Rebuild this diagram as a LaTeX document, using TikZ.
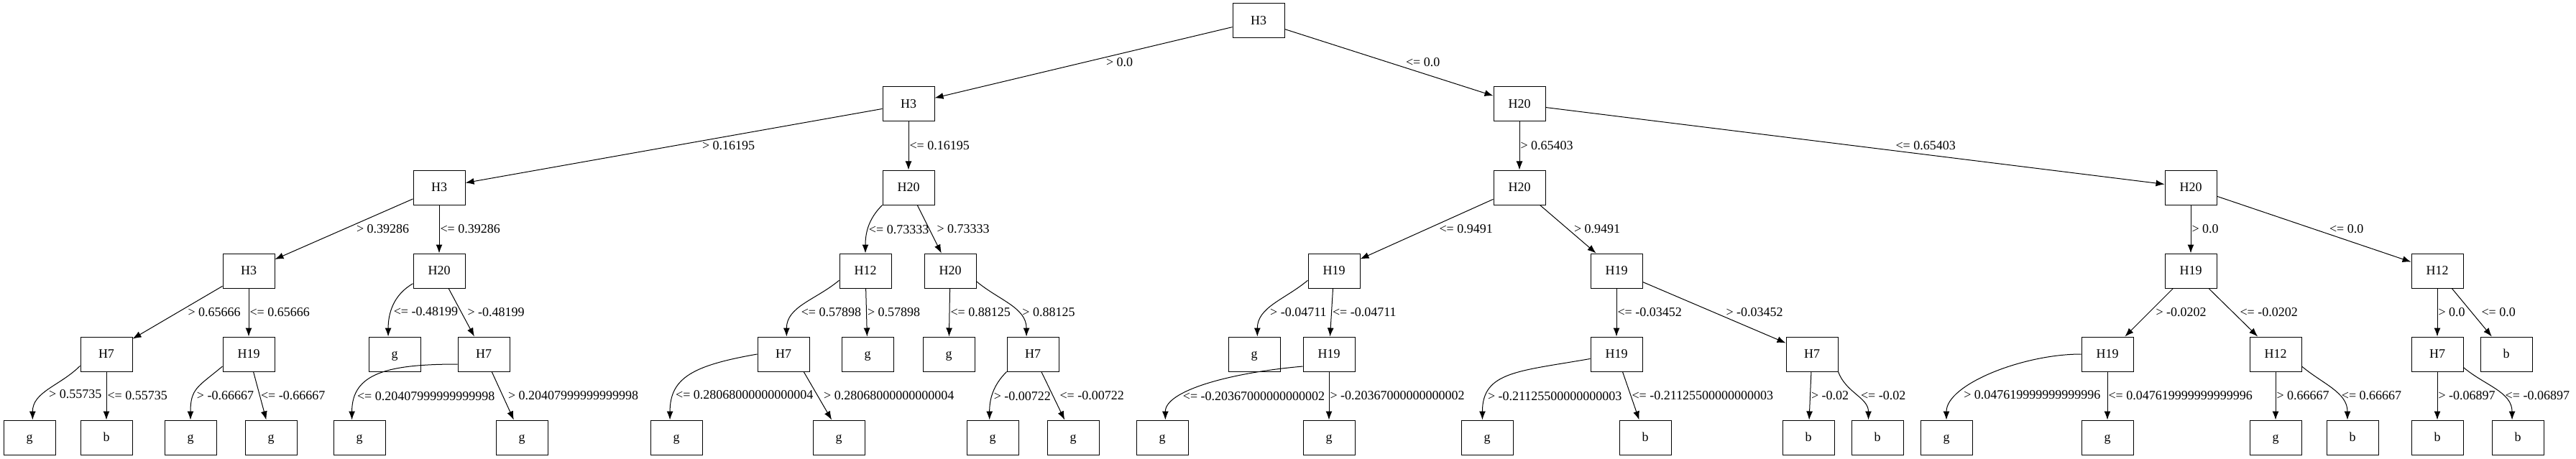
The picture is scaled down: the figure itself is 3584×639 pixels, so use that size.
\documentclass[tikz,border=0pt]{standalone}
\usepackage{fontspec}
\setmainfont{Liberation Serif}
\usetikzlibrary{arrows.meta}

\begin{document}
\begin{tikzpicture}[x=1pt, y=1pt, font=\fontsize{18}{22}\selectfont,
    box/.style = {draw, rectangle, line width=1pt, minimum width=72pt, minimum height=48pt, inner sep=0pt, text height=11pt, text depth=0pt},
    lbl/.style = {anchor=west, inner sep=1pt},
    arr/.style = {draw, line width=1pt, -{Latex[length=12pt, width=9pt]}}]
    \useasboundingbox (0,0) rectangle (3584,-639);

    \node[box] (r0) at (1751,-29) {H3};

    \node[box] (a1) at (1264,-145) {H3};
    \node[box] (a2) at (2114,-145) {H20};

    \node[box] (b1) at (611,-261) {H3};
    \node[box] (b2) at (1264,-261) {H20};
    \node[box] (b3) at (2114,-261) {H20};
    \node[box] (b4) at (3048,-261) {H20};

    \node[box] (c1) at (346,-377) {H3};
    \node[box] (c2) at (611,-377) {H20};
    \node[box] (c3) at (1204,-377) {H12};
    \node[box] (c4) at (1322,-377) {H20};
    \node[box] (c5) at (1856,-377) {H19};
    \node[box] (c6) at (2249,-377) {H19};
    \node[box] (c7) at (3048,-377) {H19};
    \node[box] (c8) at (3391,-377) {H12};

    \node[box] (d1) at (148,-493) {H7};
    \node[box] (d2) at (346,-493) {H19};
    \node[box] (d3) at (549,-493) {g};
    \node[box] (d4) at (673,-493) {H7};
    \node[box] (d5) at (1090,-493) {H7};
    \node[box] (d6) at (1207,-493) {g};
    \node[box] (d7) at (1320,-493) {g};
    \node[box] (d8) at (1437,-493) {H7};
    \node[box] (d9) at (1745,-493) {g};
    \node[box] (d10) at (1849,-493) {H19};
    \node[box] (d11) at (2249,-493) {H19};
    \node[box] (d12) at (2521,-493) {H7};
    \node[box] (d13) at (2932,-493) {H19};
    \node[box] (d14) at (3166,-493) {H12};
    \node[box] (d15) at (3391,-493) {H7};
    \node[box] (d16) at (3487,-493) {b};

    \node[box] (e1) at (41,-609) {g};
    \node[box] (e2) at (148,-609) {b};
    \node[box] (e3) at (265,-609) {g};
    \node[box] (e4) at (377,-609) {g};
    \node[box] (e5) at (500,-609) {g};
    \node[box] (e6) at (726,-609) {g};
    \node[box] (e7) at (941,-609) {g};
    \node[box] (e8) at (1167,-609) {g};
    \node[box] (e9) at (1381,-609) {g};
    \node[box] (e10) at (1493,-609) {g};
    \node[box] (e11) at (1617,-609) {g};
    \node[box] (e12) at (1849,-609) {g};
    \node[box] (e13) at (2069,-609) {g};
    \node[box] (e14) at (2289,-609) {b};
    \node[box] (e15) at (2516,-609) {b};
    \node[box] (e16) at (2612,-609) {b};
    \node[box] (e17) at (2708,-609) {g};
    \node[box] (e18) at (2932,-609) {g};
    \node[box] (e19) at (3166,-609) {g};
    \node[box] (e20) at (3273,-609) {b};
    \node[box] (e21) at (3391,-609) {b};
    \node[box] (e22) at (3503,-609) {b};

    \path (r0) edge[arr] node[lbl, xshift=30] {> 0.0} (a1);
    \path (r0) edge[arr] node[lbl, xshift=22] {<= 0.0} (a2);

    \path (a1) edge[arr] node[lbl, xshift=38] {> 0.16195} (b1);
    \path (a1) edge[arr] node[lbl] {<= 0.16195} (b2);
    \path (a2) edge[arr] node[lbl] {> 0.65403} (b3);
    \path (a2) edge[arr] node[lbl, xshift=55] {<= 0.65403} (b4);

    \path (b1) edge[arr] node[lbl, xshift=16] {> 0.39286} (c1);
    \path (b1) edge[arr] node[lbl] {<= 0.39286} (c2);
    \path (b2.south west) edge[arr, out=-135, in=90] node[lbl, pos=.55] {<= 0.73333} (c3.north);
    \path (b2) edge[arr] node[lbl, xshift=9] {> 0.73333} (c4);
    \path (b3) edge[arr] node[lbl, xshift=16] {<= 0.9491} (c5);
    \path (b3) edge[arr] node[lbl, xshift=7] {> 0.9491} (c6);
    \path (b4) edge[arr] node[lbl] {> 0.0} (c7);
    \path (b4) edge[arr] node[lbl, xshift=20] {<= 0.0} (c8);

    \path (c1) edge[arr] node[lbl, xshift=13] {> 0.65666} (d1);
    \path (c1) edge[arr] node[lbl] {<= 0.65666} (d2);
    \path (c2.206) edge[arr, out=-150, in=90] node[lbl, pos=.6, xshift=2] {<= -0.48199} (d3.110);
    \path (c2) edge[arr] node[lbl, xshift=7] {> -0.48199} (d4);
    \path (c3.200) edge[arr, out=-140, in=90] node[lbl, pos=.65, xshift=6] {<= 0.57898} (d5.80);
    \path (c3) edge[arr] node[lbl] {> 0.57898} (d6);
    \path (c4) edge[arr] node[lbl] {<= 0.88125} (d7);
    \path (c4.-22) edge[arr, out=-40, in=90] node[lbl, pos=.65, xshift=5] {> 0.88125} (d8.110);
    \path (c5.200) edge[arr, out=-140, in=90] node[lbl, pos=.65, xshift=4] {> -0.04711} (d9.80);
    \path (c5) edge[arr] node[lbl] {<= -0.04711} (d10);
    \path (c6) edge[arr] node[lbl] {<= -0.03452} (d11);
    \path (c6) edge[arr] node[lbl, xshift=15] {> -0.03452} (d12);
    \path (c7) edge[arr] node[lbl, xshift=8] {> -0.0202} (d13);
    \path (c7) edge[arr] node[lbl, xshift=8] {<= -0.0202} (d14);
    \path (c8) edge[arr] node[lbl] {> 0.0} (d15);
    \path (c8) edge[arr] node[lbl, xshift=12] {<= 0.0} (d16);

    \path (d1.204) edge[arr, out=-135, in=90] node[lbl, pos=.6, xshift=6] {> 0.55735} (e1.80);
    \path (d1) edge[arr] node[lbl] {<= 0.55735} (e2);
    \path (d2.205) edge[arr, out=-140, in=90, looseness=1.3] node[lbl, pos=.65, xshift=3] {> -0.66667} (e3.north);
    \path (d2) edge[arr] node[lbl] {<= -0.66667} (e4);
    \path (d4.201) edge[arr, out=180, in=90, out looseness=1.5] node[lbl, pos=.8] {<= 0.20407999999999998} (e5.113);
    \path (d4) edge[arr] node[lbl, xshift=6] {> 0.20407999999999998} (e6);
    \path (d5.west) edge[arr, out=190, in=90, out looseness=1.5] node[lbl, pos=.77, xshift=1] {<= 0.28068000000000004} (e7.110);
    \path (d5.-41) edge[arr] node[lbl, xshift=7] {> 0.28068000000000004} (e8.112);
    \path (d8.south west) edge[arr, out=-135, in=90] node[lbl, pos=.55, xshift=1] {> -0.00722} (e9.100);
    \path (d8) edge[arr] node[lbl, xshift=8] {<= -0.00722} (e10);
    \path (d10.205) edge[arr, out=185, in=90, out looseness=1.3, in looseness=.5] node[lbl, pos=.69] {<= -0.20367000000000002} (e11.80);
    \path (d10) edge[arr] node[lbl] {> -0.20367000000000002} (e12);
    \path (d11.190) edge[arr, out=190, in=90, out looseness=1.5] node[lbl, pos=.8] {> -0.21125500000000003} (e13.105);
    \path (d11) edge[arr] node[lbl] {<= -0.21125500000000003} (e14);
    \path (d12) edge[arr] node[lbl] {> -0.02} (e15);
    \path (d12.south east) edge[arr, out=-70, in=90] node[lbl, pos=.5, xshift=5] {<= -0.02} (e16.117);
    \path (d13.west) edge[arr, out=180, in=90, in looseness=.6] node[lbl, pos=.75, xshift=5] {> 0.047619999999999996} (e17.north);
    \path (d13) edge[arr] node[lbl] {<= 0.047619999999999996} (e18);
    \path (d14) edge[arr] node[lbl] {> 0.66667} (e19);
    \path (d14.-25) edge[arr, out=-40, in=90] node[lbl, pos=.62, xshift=3] {<= 0.66667} (e20.106);
    \path (d15) edge[arr] node[lbl] {> -0.06897} (e21);
    \path (d15.-27) edge[arr, out=-40, in=90] node[lbl, pos=.62, xshift=3] {<= -0.06897} (e22.108);
\end{tikzpicture}
\end{document}
